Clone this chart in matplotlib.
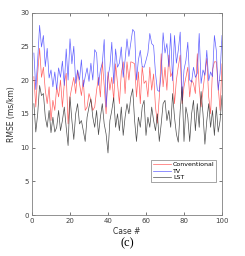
import matplotlib.pyplot as plt
import numpy as np

# RMSE per case for the three reconstruction methods
cases = np.arange(1, 101)

conventional = [
    20.5, 16.0, 21.0, 24.7, 20.4, 21.9, 18.5, 16.5, 19.0, 14.0,
    17.0, 15.5, 19.0, 17.5, 20.0, 16.0, 19.5, 21.0, 13.5, 17.5,
    19.0, 20.4, 18.0, 21.4, 19.5, 17.7, 20.0, 15.5, 16.0, 18.0,
    17.0, 15.5, 16.0, 18.5, 20.4, 17.5, 22.7, 19.2, 15.0, 21.2,
    18.5, 20.4, 17.0, 22.4, 19.5, 16.5, 21.0, 22.7, 18.0, 22.7,
    20.0, 22.7, 22.6, 22.4, 17.5, 21.2, 16.5, 22.0, 19.5, 19.9,
    17.5, 21.9, 18.5, 20.9, 16.0, 13.6, 17.5, 23.9, 19.0, 21.9,
    18.5, 23.7, 20.5, 21.2, 16.5, 20.0, 22.0, 23.7, 16.5, 19.0,
    20.4, 21.9, 17.5, 20.0, 19.5, 18.0, 23.9, 19.0, 16.0, 18.5,
    21.0, 23.2, 17.5, 15.0, 21.5, 22.7, 22.7, 19.0, 15.5, 22.4,
]

tv = [
    24.0, 18.6, 23.0, 28.1, 24.9, 26.6, 22.0, 24.7, 20.3, 21.5,
    19.0, 21.2, 18.6, 21.8, 20.4, 22.8, 19.2, 24.6, 20.0, 26.1,
    22.4, 25.0, 19.5, 21.5, 20.0, 23.0, 19.0, 20.5, 21.8, 19.8,
    22.5, 20.0, 24.5, 24.0, 19.2, 21.5, 22.5, 26.0, 16.0, 20.5,
    22.0, 25.6, 19.5, 24.6, 21.9, 22.5, 24.9, 20.4, 23.0, 26.1,
    23.5, 25.5, 27.5, 27.1, 20.0, 23.0, 24.4, 22.0, 21.9, 22.9,
    24.0, 26.9, 25.4, 25.1, 21.0, 18.5, 18.3, 21.0, 27.0, 24.0,
    25.4, 22.0, 26.9, 19.9, 26.6, 22.5, 24.4, 27.1, 17.0, 21.5,
    22.9, 25.6, 20.0, 19.7, 21.9, 20.4, 21.0, 26.9, 19.5, 21.5,
    20.7, 24.4, 19.9, 21.2, 20.5, 26.6, 24.4, 18.5, 21.0, 26.6,
]

lst = [
    16.5, 12.3, 15.0, 19.2, 17.7, 18.0, 14.5, 13.0, 15.5, 12.2,
    14.5, 12.3, 13.0, 15.5, 12.5, 14.0, 16.0, 13.0, 10.3, 17.5,
    14.0, 11.2, 15.0, 16.5, 13.5, 14.0, 12.5, 10.9, 14.5, 16.0,
    17.2, 14.5, 13.0, 15.5, 11.9, 14.5, 16.5, 13.5, 12.0, 9.2,
    14.0, 15.5, 17.4, 13.0, 15.0, 12.5, 16.0, 11.8, 14.5, 16.5,
    15.0, 17.5, 18.7, 14.0, 10.9, 14.5, 13.0, 16.0, 17.0, 11.8,
    14.5, 13.0, 16.0, 14.0, 12.5, 15.0, 10.9, 13.5, 16.5, 17.0,
    14.0, 15.5, 13.0, 18.0, 14.5, 12.0, 10.8, 15.5, 19.0, 10.9,
    16.0, 14.5, 10.9, 15.0, 17.0, 12.5, 16.5, 13.0, 18.3, 15.0,
    10.5, 14.0, 16.5, 13.0, 15.5, 11.8, 16.0, 12.3, 14.0, 17.7,
]

fig = plt.figure(figsize=(2.45, 2.56), dpi=100)
ax = fig.add_axes([0.1306, 0.160, 0.7755, 0.791])

ax.plot(cases, conventional, color='#ff3a3a', lw=0.5, alpha=0.8, label='Conventional')
ax.plot(cases, tv, color='#3a3aff', lw=0.5, alpha=0.8, label='TV')
ax.plot(cases, lst, color='#202020', lw=0.5, alpha=0.8, label='LST')

ax.set_xlim(0, 100)
ax.set_ylim(0, 30)
ax.set_xticks(np.arange(0, 101, 20))
ax.set_yticks(np.arange(0, 31, 5))
ax.tick_params(direction='in', length=2, width=0.5, labelsize=5,
               colors='#404040', top=True, right=True, pad=2)
for s in ax.spines.values():
    s.set_color('#808080')
    s.set_linewidth(0.6)

ax.set_xlabel('Case #', fontsize=5.5, color='#303030', labelpad=2)
ax.set_ylabel('RMSE (ms/km)', fontsize=5.5, color='#303030', labelpad=3)

leg = ax.legend(loc='lower left', bbox_to_anchor=(0.61, 0.148), fontsize=4.5,
                handlelength=2.9, handletextpad=0.3, labelspacing=0.15,
                borderpad=0.3, fancybox=False, framealpha=1)
leg.get_frame().set_edgecolor('#808080')
leg.get_frame().set_linewidth(0.5)

fig.text(0.518, 0.05, '(c)', fontsize=9, family='Liberation Serif',
         ha='center', va='center')

fig.savefig('out.png', dpi=100)
